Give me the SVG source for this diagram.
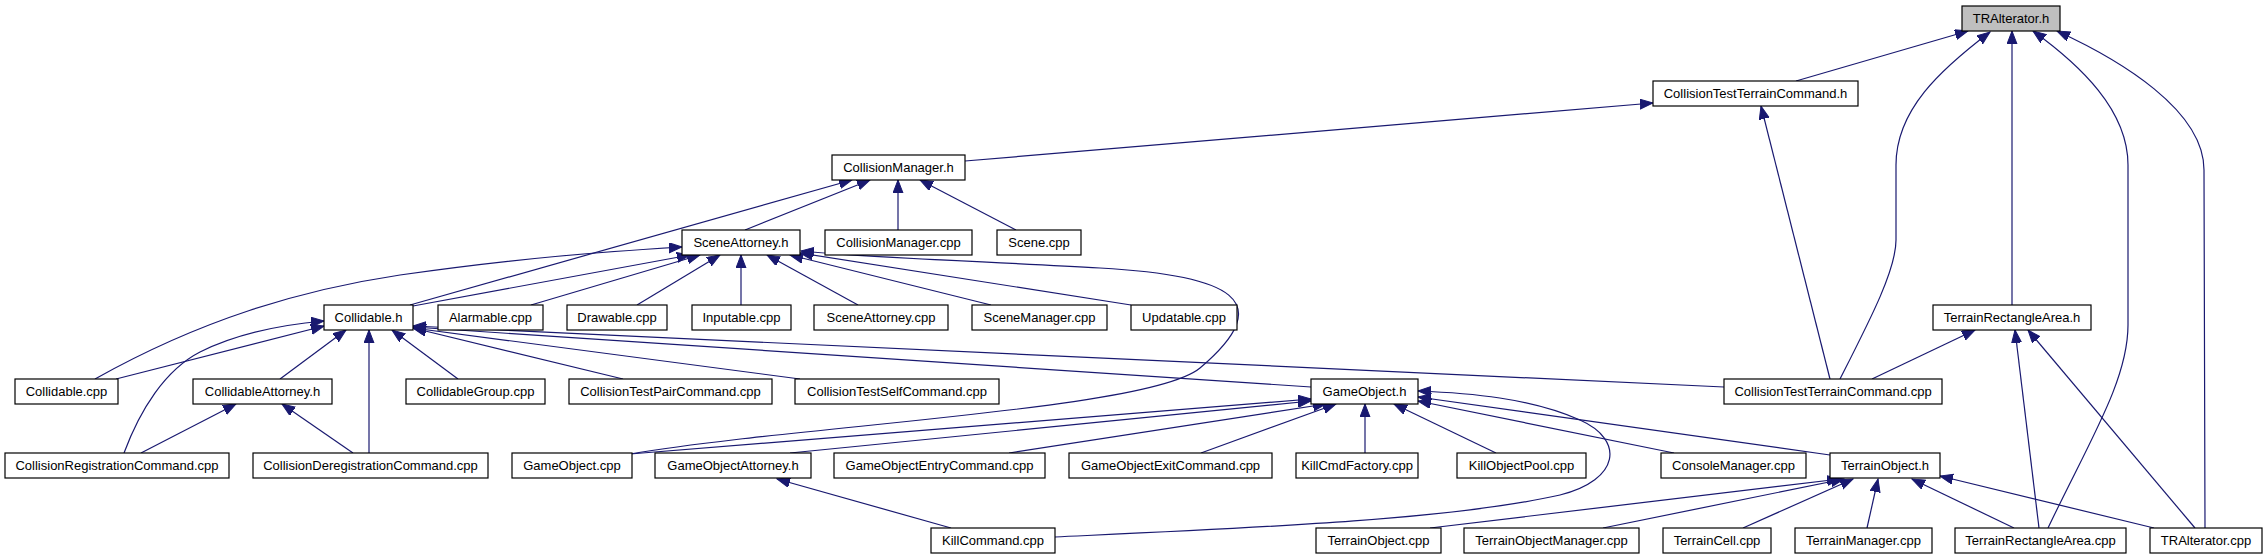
<svg xmlns="http://www.w3.org/2000/svg" width="2268" height="560" viewBox="0 0 2268 560">
<style>
.n rect{fill:#fff;stroke:#000;stroke-width:1.2}
.n.root rect{fill:#bfbfbf}
.n text{font-family:"Liberation Sans",Arial,sans-serif;font-size:13px;text-anchor:middle;fill:#000}
.e path{fill:none;stroke:#191970;stroke-width:1.2;marker-end:url(#ah)}
</style>
<defs>
<marker id="ah" markerUnits="userSpaceOnUse" markerWidth="14" markerHeight="11" refX="13" refY="5" orient="auto">
<path d="M0,0 L13,5 L0,10 z" fill="#191970" stroke="#191970" stroke-width="1"/>
</marker>
</defs>
<rect width="2268" height="560" fill="#fff"/>
<g id="edges" class="e">
<path d="M1796,81 L1968,31"/>
<path d="M1840,379 C1870,320 1896,270 1896,240 L1896,165 C1896,110 1940,70 1990,32"/>
<path d="M2012,305 L2012,31"/>
<path d="M2048,528 C2090,440 2128,380 2128,325 L2128,165 C2128,110 2080,65 2033,31"/>
<path d="M2205,528 L2204,170 C2204,110 2120,60 2057,31"/>
<path d="M965,161 L1653,103"/>
<path d="M1830,379 L1761,106"/>
<path d="M410,305 L852,180"/>
<path d="M745,230 L870,180"/>
<path d="M898,230 L898,180"/>
<path d="M1016,230 L920,180"/>
<path d="M413,306 L690,255"/>
<path d="M531,305 L700,255"/>
<path d="M637,305 L720,255"/>
<path d="M741,305 L741,255"/>
<path d="M858,305 L767,255"/>
<path d="M991,305 L790,255"/>
<path d="M1131,305 L800,253"/>
<path d="M95,379 C200,320 300,290 400,275 C520,258 600,252 682,247"/>
<path d="M630,454 C800,425 1150,410 1200,368 C1280,300 1230,275 1100,268 C1000,262 870,258 801,251"/>
<path d="M116,379 L324,326"/>
<path d="M124,453 C140,410 165,370 200,352 C240,332 290,324 324,321"/>
<path d="M280,379 L346,330"/>
<path d="M369,453 L369,330"/>
<path d="M458,379 L392,330"/>
<path d="M623,379 L413,328"/>
<path d="M800,379 L413,328"/>
<path d="M1311,387 L413,327"/>
<path d="M1724,387 L413,326"/>
<path d="M141,453 L236,404"/>
<path d="M353,453 L282,404"/>
<path d="M630,454 L1311,399"/>
<path d="M790,453 L1311,401"/>
<path d="M1009,453 L1326,404"/>
<path d="M1201,453 L1336,404"/>
<path d="M1365,453 L1365,404"/>
<path d="M1496,453 L1394,404"/>
<path d="M1674,453 L1418,401"/>
<path d="M1830,455 L1418,397"/>
<path d="M1055,537 C1250,528 1450,520 1560,495 C1620,480 1625,440 1580,420 C1530,398 1470,393 1418,391"/>
<path d="M951,528 L777,479"/>
<path d="M1430,528 L1840,479"/>
<path d="M1603,528 L1844,479"/>
<path d="M1743,528 L1853,479"/>
<path d="M1867,528 L1878,479"/>
<path d="M2014,528 L1912,479"/>
<path d="M2154,528 L1940,476"/>
<path d="M1872,379 L1975,330"/>
<path d="M2039,528 L2015,330"/>
<path d="M2195,528 L2028,330"/>
</g>
<g id="n_TRAlterator_h" class="n root"><rect x="1962" y="6" width="98" height="25"/><text x="2011" y="23">TRAlterator.h</text></g>
<g id="n_CollisionTestTerrainCommand_h" class="n"><rect x="1653" y="81" width="205" height="25"/><text x="1755.5" y="98">CollisionTestTerrainCommand.h</text></g>
<g id="n_CollisionManager_h" class="n"><rect x="832" y="155" width="133" height="25"/><text x="898.5" y="172">CollisionManager.h</text></g>
<g id="n_SceneAttorney_h" class="n"><rect x="682" y="230" width="118" height="25"/><text x="741" y="247">SceneAttorney.h</text></g>
<g id="n_CollisionManager_cpp" class="n"><rect x="825" y="230" width="147" height="25"/><text x="898.5" y="247">CollisionManager.cpp</text></g>
<g id="n_Scene_cpp" class="n"><rect x="997" y="230" width="84" height="25"/><text x="1039" y="247">Scene.cpp</text></g>
<g id="n_Collidable_h" class="n"><rect x="324" y="305" width="89" height="25"/><text x="368.5" y="322">Collidable.h</text></g>
<g id="n_Alarmable_cpp" class="n"><rect x="438" y="305" width="105" height="25"/><text x="490.5" y="322">Alarmable.cpp</text></g>
<g id="n_Drawable_cpp" class="n"><rect x="567" y="305" width="100" height="25"/><text x="617" y="322">Drawable.cpp</text></g>
<g id="n_Inputable_cpp" class="n"><rect x="692" y="305" width="99" height="25"/><text x="741.5" y="322">Inputable.cpp</text></g>
<g id="n_SceneAttorney_cpp" class="n"><rect x="814" y="305" width="134" height="25"/><text x="881" y="322">SceneAttorney.cpp</text></g>
<g id="n_SceneManager_cpp" class="n"><rect x="972" y="305" width="135" height="25"/><text x="1039.5" y="322">SceneManager.cpp</text></g>
<g id="n_Updatable_cpp" class="n"><rect x="1131" y="305" width="106" height="25"/><text x="1184" y="322">Updatable.cpp</text></g>
<g id="n_TerrainRectangleArea_h" class="n"><rect x="1933" y="305" width="158" height="25"/><text x="2012" y="322">TerrainRectangleArea.h</text></g>
<g id="n_Collidable_cpp" class="n"><rect x="15" y="379" width="103" height="25"/><text x="66.5" y="396">Collidable.cpp</text></g>
<g id="n_CollidableAttorney_h" class="n"><rect x="193" y="379" width="139" height="25"/><text x="262.5" y="396">CollidableAttorney.h</text></g>
<g id="n_CollidableGroup_cpp" class="n"><rect x="406" y="379" width="139" height="25"/><text x="475.5" y="396">CollidableGroup.cpp</text></g>
<g id="n_CollisionTestPairCommand_cpp" class="n"><rect x="569" y="379" width="203" height="25"/><text x="670.5" y="396">CollisionTestPairCommand.cpp</text></g>
<g id="n_CollisionTestSelfCommand_cpp" class="n"><rect x="795" y="379" width="204" height="25"/><text x="897" y="396">CollisionTestSelfCommand.cpp</text></g>
<g id="n_GameObject_h" class="n"><rect x="1311" y="379" width="107" height="25"/><text x="1364.5" y="396">GameObject.h</text></g>
<g id="n_CollisionTestTerrainCommand_cpp" class="n"><rect x="1724" y="379" width="218" height="25"/><text x="1833" y="396">CollisionTestTerrainCommand.cpp</text></g>
<g id="n_CollisionRegistrationCommand_cpp" class="n"><rect x="5" y="453" width="224" height="25"/><text x="117" y="470">CollisionRegistrationCommand.cpp</text></g>
<g id="n_CollisionDeregistrationCommand_cpp" class="n"><rect x="253" y="453" width="235" height="25"/><text x="370.5" y="470">CollisionDeregistrationCommand.cpp</text></g>
<g id="n_GameObject_cpp" class="n"><rect x="512" y="453" width="120" height="25"/><text x="572" y="470">GameObject.cpp</text></g>
<g id="n_GameObjectAttorney_h" class="n"><rect x="655" y="453" width="156" height="25"/><text x="733" y="470">GameObjectAttorney.h</text></g>
<g id="n_GameObjectEntryCommand_cpp" class="n"><rect x="834" y="453" width="211" height="25"/><text x="939.5" y="470">GameObjectEntryCommand.cpp</text></g>
<g id="n_GameObjectExitCommand_cpp" class="n"><rect x="1069" y="453" width="203" height="25"/><text x="1170.5" y="470">GameObjectExitCommand.cpp</text></g>
<g id="n_KillCmdFactory_cpp" class="n"><rect x="1296" y="453" width="122" height="25"/><text x="1357" y="470">KillCmdFactory.cpp</text></g>
<g id="n_KillObjectPool_cpp" class="n"><rect x="1457" y="453" width="129" height="25"/><text x="1521.5" y="470">KillObjectPool.cpp</text></g>
<g id="n_ConsoleManager_cpp" class="n"><rect x="1661" y="453" width="145" height="25"/><text x="1733.5" y="470">ConsoleManager.cpp</text></g>
<g id="n_TerrainObject_h" class="n"><rect x="1830" y="453" width="110" height="25"/><text x="1885" y="470">TerrainObject.h</text></g>
<g id="n_KillCommand_cpp" class="n"><rect x="931" y="528" width="124" height="25"/><text x="993" y="545">KillCommand.cpp</text></g>
<g id="n_TerrainObject_cpp" class="n"><rect x="1316" y="528" width="125" height="25"/><text x="1378.5" y="545">TerrainObject.cpp</text></g>
<g id="n_TerrainObjectManager_cpp" class="n"><rect x="1464" y="528" width="175" height="25"/><text x="1551.5" y="545">TerrainObjectManager.cpp</text></g>
<g id="n_TerrainCell_cpp" class="n"><rect x="1663" y="528" width="108" height="25"/><text x="1717" y="545">TerrainCell.cpp</text></g>
<g id="n_TerrainManager_cpp" class="n"><rect x="1795" y="528" width="137" height="25"/><text x="1863.5" y="545">TerrainManager.cpp</text></g>
<g id="n_TerrainRectangleArea_cpp" class="n"><rect x="1955" y="528" width="171" height="25"/><text x="2040.5" y="545">TerrainRectangleArea.cpp</text></g>
<g id="n_TRAlterator_cpp" class="n"><rect x="2150" y="528" width="112" height="25"/><text x="2206" y="545">TRAlterator.cpp</text></g>
</svg>
